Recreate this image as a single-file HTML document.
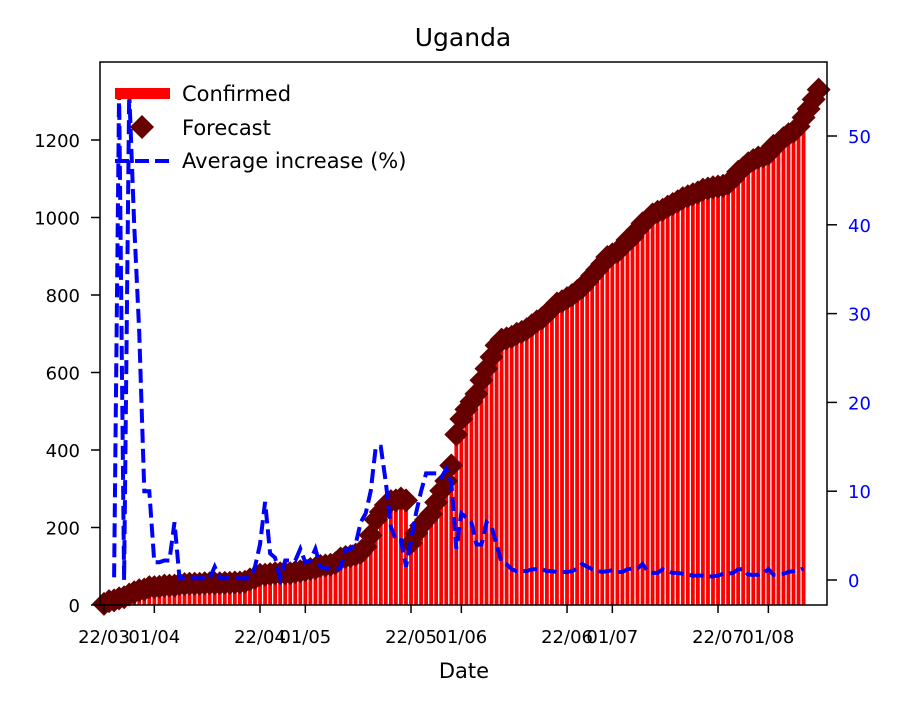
<!DOCTYPE html>
<html><head><meta charset="utf-8"><style>
body{margin:0;background:#fff;}
svg text{font-family:"DejaVu Sans","Liberation Sans",sans-serif;}
</style></head><body>
<svg id="chart" width="900" height="700" xmlns="http://www.w3.org/2000/svg">
<rect width="900" height="700" fill="#fff"/>
<text x="463" y="46" font-size="25" text-anchor="middle">Uganda</text>
<g id="bars"></g>
<g id="marks"></g>
<g id="line"></g>
<rect x="100" y="62" width="727" height="543" fill="none" stroke="#000" stroke-width="1.5"/>
<g id="axes"></g>
<text x="464" y="678" font-size="21" text-anchor="middle">Date</text>
<g>
<rect x="115" y="88" width="55" height="11" fill="#ff0000"/>
<text x="182" y="101" font-size="21">Confirmed</text>
<rect x="133.5" y="118.5" width="17" height="17" fill="#660000" transform="rotate(45 142 127)"/>
<text x="182" y="135" font-size="21">Forecast</text>
<line x1="115" y1="161" x2="170" y2="161" stroke="#0000ff" stroke-width="4" stroke-dasharray="14,6"/>
<text x="182" y="168" font-size="21">Average increase (%)</text>
</g>
</svg>
<script>
const confirmed=[1,9,9,14,14,23,30,33,33,44,
44,45,48,48,48,52,52,53,53,53,
54,54,54,54,55,55,56,56,56,61,
63,74,75,75,79,79,79,79,81,83,
85,88,89,97,98,100,101,116,121,122,
126,129,139,160,203,227,248,260,260,264,
264,145,175,198,212,222,253,281,304,329,
417,457,489,507,522,557,593,616,657,679,
682,686,694,696,705,712,724,732,741,755,
770,774,781,789,797,805,821,837,848,870,
889,900,902,911,934,936,953,971,983,992,
1000,1010,1013,1025,1029,1040,1043,1051,1051,1065,
1069,1072,1072,1075,1079,1089,1107,1115,1128,1135,
1140,1147,1154,1176,1182,1195,1203,1213,1223,1233];
const forecast=[3,10,12,17,20,27,33,38,40,46,
46,47,50,50,50,54,54,55,55,55,
56,56,56,56,57,57,58,58,60,66,
70,78,78,80,82,82,82,82,85,87,
90,93,95,101,102,104,108,120,124,126,
130,135,150,180,220,240,258,268,270,275,
270,160,185,205,220,235,265,295,320,360,
440,480,505,525,545,580,610,640,670,685,
688,692,700,705,712,722,732,740,752,765,
778,784,792,800,810,820,835,850,865,880,
898,905,912,925,942,950,968,985,995,1008,
1015,1020,1028,1035,1042,1050,1055,1060,1065,1072,
1075,1078,1080,1082,1088,1100,1118,1128,1140,1148,
1155,1158,1165,1185,1192,1205,1215,1222,1235,1258,
1280,1305,1330];
const avgStart=2;
const avgIncrease=[0.3,55,0,55,40,28,10,10,2,2,
2.2,2.2,6.5,0.2,0.2,0.2,0.2,0.2,0.2,0.2,
1.5,0.2,0.2,0.2,0.2,0.2,0.2,0.2,1.5,4,
8.8,3,2.5,0.2,2.2,2.2,2.2,3.5,2,2.2,
3.5,1.5,1.3,1.3,1.3,1.3,3.5,3.5,4,6.5,
7.5,10,15,15,11,6,4.5,4.5,1.5,4.5,
7.5,10,12,12,12,11.5,12.5,11,3.5,7.5,
7,6.5,4,4,6.5,6,4,2,1.8,1.2,
1,1,1,1.2,1.2,1.2,1,1,0.9,0.9,
0.9,1,1.3,1.8,1.5,1.2,1,0.9,1,1.1,
0.9,0.9,1.2,1.3,1.3,1.8,1,0.8,0.8,1.2,
1,0.8,0.8,0.7,0.6,0.5,0.5,0.5,0.4,0.4,
0.5,0.7,0.7,0.8,1.2,1.2,0.6,0.6,0.6,0.8,
1.2,0.6,0.6,0.7,0.9,1,1.1,1.3];
const leftTicks=[0,200,400,600,800,1000,1200];
const rightTicks=[0,10,20,30,40,50];
const xTickDays=[0,10,31,40,61,71,92,101,122,132];
const xTickLabels=["22/03","01/04","22/04","01/05","22/05","01/06","22/06","01/07","22/07","01/08"];

const NS="http://www.w3.org/2000/svg";
const xs=d=>104+5.033*d;
const yL=v=>605-v*0.3875;
const yR=v=>580-v*8.88;
function mk(tag,attrs,parent){const e=document.createElementNS(NS,tag);for(const k in attrs)e.setAttribute(k,attrs[k]);parent.appendChild(e);return e;}
const bars=document.getElementById('bars'),marks=document.getElementById('marks'),line=document.getElementById('line'),axes=document.getElementById('axes');
confirmed.forEach((v,i)=>{
  const r=mk('rect',{x:xs(i)-2.2,y:yL(v),width:4.4,height:605-yL(v),fill:'#ff0000',stroke:'#fff','stroke-width':0.6},bars);
  
  
});
forecast.forEach((v,i)=>{
  const cx=xs(i),cy=yL(v);
  const p=mk('polygon',{points:`${cx},${cy-12} ${cx+12},${cy} ${cx},${cy+12} ${cx-12},${cy}`,fill:'#660000'},marks);
  
  
});
const pts=avgIncrease.map((v,i)=>xs(i+avgStart).toFixed(1)+','+yR(v).toFixed(1)).join(' ');
const pl=mk('polyline',{points:pts,fill:'none',stroke:'#0000ff','stroke-width':4,'stroke-dasharray':'14,6'},line);


leftTicks.forEach(v=>{
  const y=yL(v);
  const t=mk('line',{x1:91,x2:100,y1:y,y2:y,stroke:'#000','stroke-width':1.5},axes);
  
  
  const l=mk('text',{x:80,y:y+7,'font-size':18,'text-anchor':'end'},axes);l.textContent=v;
  
  
});
rightTicks.forEach(v=>{
  const y=yR(v);
  const t=mk('line',{x1:827,x2:837,y1:y,y2:y,stroke:'#000','stroke-width':1.5},axes);
  
  
  const l=mk('text',{x:848,y:y+7,'font-size':18,fill:'#0000ff'},axes);l.textContent=v;
  
  
});
xTickDays.forEach((d,i)=>{
  const x=xs(d);
  const t=mk('line',{x1:x,x2:x,y1:605,y2:613,stroke:'#000','stroke-width':1.5},axes);
  
  
  const l=mk('text',{x:x,y:643,'font-size':18,'text-anchor':'middle'},axes);l.textContent=xTickLabels[i];
  
  
});
</script>
</body></html>
